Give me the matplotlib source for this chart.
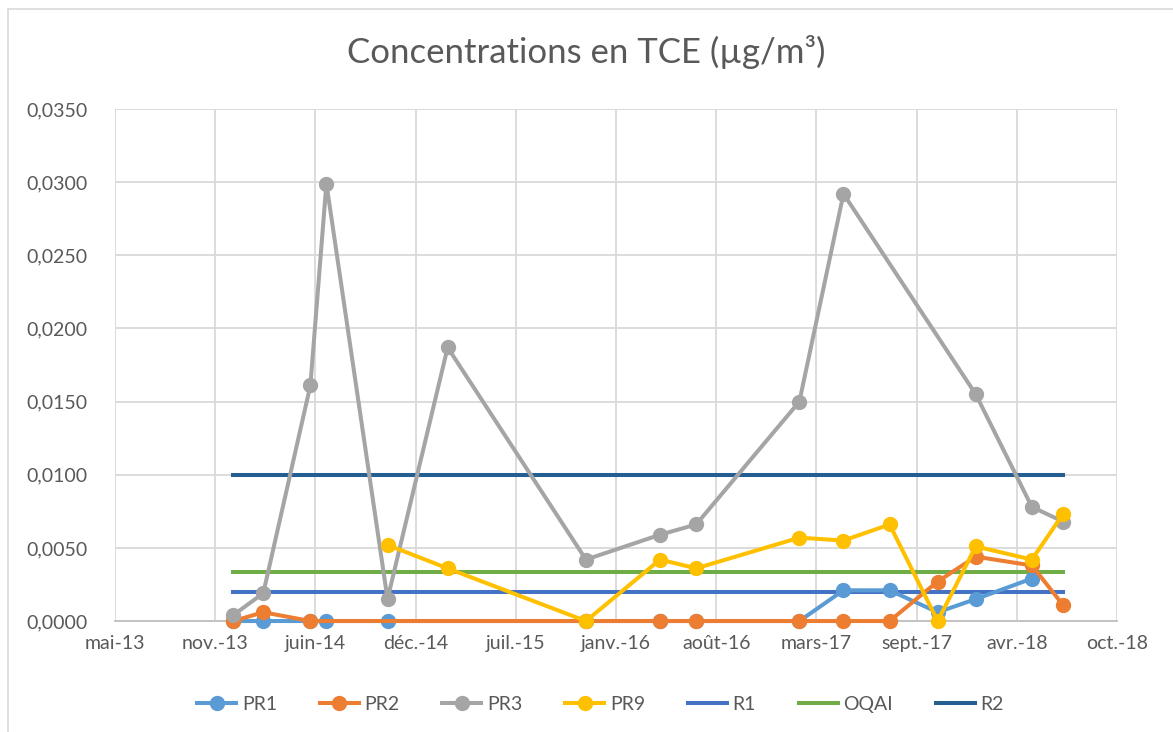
import matplotlib
matplotlib.use('Agg')
import matplotlib.pyplot as plt
from matplotlib.patches import Rectangle
from matplotlib.ticker import FuncFormatter
import numpy as np
import pandas as pd

plt.rcParams['font.family'] = ['Lato', 'DejaVu Sans']

# sampling dates (shared by the four sampling points)
dates = ['2013-12-23', '2014-02-21', '2014-05-26', '2014-06-27', '2014-10-27',
         '2015-02-24', '2015-11-27', '2016-04-23', '2016-07-04', '2017-01-26',
         '2017-04-24', '2017-07-25', '2017-10-29', '2018-01-13', '2018-05-05',
         '2018-07-06']

pr1 = [0, 0, 0, 0, 0, None, 0, 0, 0, 0, 0.0021, 0.0021, 0.0006, 0.0015, 0.0029, None]
pr2 = [0, 0.0006, 0, None, None, None, 0, 0, 0, 0, 0, 0, 0.0027, 0.0044, 0.0038, 0.0011]
pr3 = [0.0004, 0.0019, 0.0161, 0.0299, 0.0015, 0.0187, 0.0042, 0.0059, 0.0066, 0.0150,
       0.0292, None, None, 0.0155, 0.0078, 0.0068]
pr9 = [None, None, None, None, 0.0052, 0.0036, 0, 0.0042, 0.0036, 0.0057, 0.0055,
       0.0066, 0, 0.0051, 0.0042, 0.0073]

# reference thresholds
r1 = 0.0020
oqai = 0.00335
r2 = 0.0100

x_start = '2013-05-01'
tick_step_days = 200
tick_labels = ['mai-13', 'nov.-13', 'juin-14', 'déc.-14', 'juil.-15', 'janv.-16',
               'août-16', 'mars-17', 'sept.-17', 'avr.-18', 'oct.-18']

colors = {'PR1': '#5B9BD5', 'PR2': '#ED7D31', 'PR3': '#A5A5A5', 'PR9': '#FFC000',
          'R1': '#4472C4', 'OQAI': '#70AD47', 'R2': '#255E91'}
text_col = '#595959'

fig = plt.figure(figsize=(11.73, 7.32), dpi=100)
ax = fig.add_axes([0.098, 0.1516, 0.8543, 0.6995])

d = pd.to_datetime(dates)
for name, vals in [('PR1', pr1), ('PR2', pr2), ('PR3', pr3), ('PR9', pr9)]:
    v = np.array([np.nan if x is None else x for x in vals], dtype=float)
    m = ~np.isnan(v)
    ax.plot(d[m], v[m], color=colors[name], lw=2.9, marker='o', ms=10,
            label=name, zorder=3, clip_on=False)

for name, val in [('R1', r1), ('OQAI', oqai), ('R2', r2)]:
    ax.plot([d[0], d[-1]], [val, val], color=colors[name], lw=2.9, label=name, zorder=2)

x0 = pd.Timestamp(x_start)
ticks = [x0 + pd.Timedelta(days=tick_step_days * i) for i in range(len(tick_labels))]
ax.set_xlim(ticks[0], ticks[-1])
ax.set_xticks(ticks)
ax.set_xticklabels(tick_labels)
ax.set_ylim(0, 0.035)
ax.set_yticks(np.arange(0, 0.0351, 0.005))
ax.yaxis.set_major_formatter(FuncFormatter(lambda v, p: f'{v:.4f}'.replace('.', ',')))

ax.grid(True, color='#d9d9d9', lw=1.3)
ax.set_axisbelow(True)
for s in ['top', 'right', 'left']:
    ax.spines[s].set_visible(False)
ax.spines['bottom'].set_color('#bfbfbf')
ax.spines['bottom'].set_linewidth(1.3)
ax.tick_params(length=0, labelsize=14, colors=text_col, pad=10)
ax.tick_params(axis='y', pad=20)

fig.suptitle('Concentrations en TCE (µg/m³)', y=0.952, fontsize=25, color=text_col)

fig.legend(loc='center', bbox_to_anchor=(0.512, 0.038), ncol=7, frameon=False,
           fontsize=14, labelcolor=text_col, handlelength=2.0, columnspacing=2.2,
           handletextpad=0.3)

fig.patches.append(Rectangle((0.0068, -0.1), 1.1, 1.0877, transform=fig.transFigure,
                             fill=False, edgecolor='#d9d9d9', lw=1.2))

fig.savefig('out.png', dpi=100)
